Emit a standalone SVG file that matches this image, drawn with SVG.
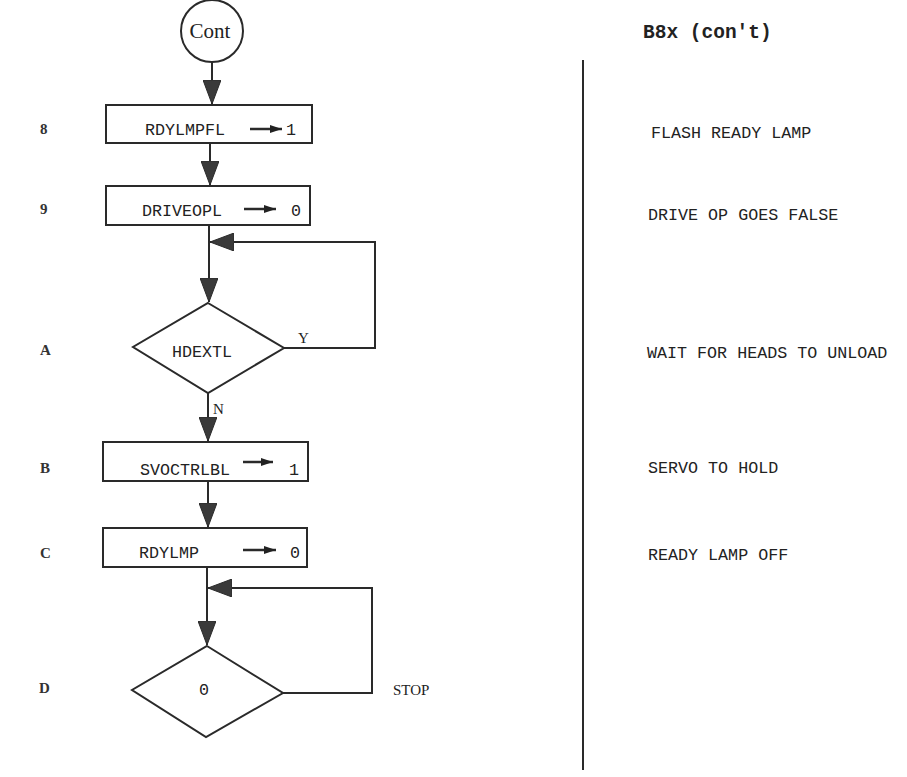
<svg xmlns="http://www.w3.org/2000/svg" width="907" height="777" viewBox="0 0 907 777">
<defs>
<style>
.bg{fill:#ffffff}
.shape{fill:#ffffff;stroke:#2a2a2a;stroke-width:2}
.line{fill:none;stroke:#2a2a2a;stroke-width:2}
.thin{fill:none;stroke:#2a2a2a;stroke-width:2.5}
.head{fill:#3a3a3a;stroke:#2a2a2a;stroke-width:1}
.mono{font-family:"Liberation Mono","DejaVu Sans Mono",monospace;font-size:16.7px;fill:#222}
.title{font-family:"Liberation Mono","DejaVu Sans Mono",monospace;font-size:19.5px;font-weight:bold;fill:#222}
.serif{font-family:"Liberation Serif","DejaVu Serif",serif;font-size:15px;fill:#222}
.lbl{font-family:"Liberation Serif","DejaVu Serif",serif;font-size:15px;font-weight:bold;fill:#333}
</style>
<marker id="ah" viewBox="0 0 24 18" refX="24" refY="9" markerWidth="24" markerHeight="18" markerUnits="userSpaceOnUse" orient="auto">
<path d="M0,0 L24,9 L0,18 Z" class="head"/>
</marker>
<marker id="sa" viewBox="0 0 12 8" refX="12" refY="4" markerWidth="12" markerHeight="8" markerUnits="userSpaceOnUse" orient="auto">
<path d="M0,0 L12,4 L0,8 Z" fill="#222"/>
</marker>
</defs>
<rect class="bg" x="0" y="0" width="907" height="777"/>

<g id="connectors">
<path class="line" d="M212,62 V104" marker-end="url(#ah)"/>
<path class="line" d="M210,143 V185" marker-end="url(#ah)"/>
<path class="line" d="M209,225 V302" marker-end="url(#ah)"/>
<path class="line" d="M284,348 H375 V242 H210" marker-end="url(#ah)"/>
<path class="line" d="M208,393 V441" marker-end="url(#ah)"/>
<path class="line" d="M208,481 V527" marker-end="url(#ah)"/>
<path class="line" d="M207,567 V645" marker-end="url(#ah)"/>
<path class="line" d="M283,693 H372 V588 H208" marker-end="url(#ah)"/>
<text class="serif" x="298" y="343">Y</text>
<text class="serif" x="213" y="414">N</text>
<text class="serif" x="393" y="695">STOP</text>
</g>

<g id="node-cont">
<circle class="shape" cx="212" cy="31" r="31"/>
<text x="210" y="38" text-anchor="middle" font-family="Liberation Serif, DejaVu Serif, serif" font-size="21" fill="#222">Cont</text>
</g>

<g id="node-8">
<text class="lbl" x="40" y="134">8</text>
<rect class="shape" x="106" y="105" width="206" height="38"/>
<text class="mono" x="145" y="135">RDYLMPFL</text>
<path class="thin" d="M250,129 H282" marker-end="url(#sa)"/>
<text class="mono" x="286" y="135">1</text>
</g>

<g id="node-9">
<text class="lbl" x="40" y="214">9</text>
<rect class="shape" x="106" y="186" width="204" height="39"/>
<text class="mono" x="142" y="216">DRIVEOPL</text>
<path class="thin" d="M244,209 H276" marker-end="url(#sa)"/>
<text class="mono" x="291" y="216">0</text>
</g>

<g id="node-A">
<text class="lbl" x="40" y="355">A</text>
<polygon class="shape" points="208,303 284,348 208,393 133,347"/>
<text class="mono" x="202" y="357" text-anchor="middle">HDEXTL</text>
</g>

<g id="node-B">
<text class="lbl" x="40" y="473">B</text>
<rect class="shape" x="103" y="442" width="205" height="39"/>
<text class="mono" x="140" y="475">SVOCTRLBL</text>
<path class="thin" d="M243,462 H273" marker-end="url(#sa)"/>
<text class="mono" x="289" y="475">1</text>
</g>

<g id="node-C">
<text class="lbl" x="40" y="558">C</text>
<rect class="shape" x="103" y="528" width="204" height="39"/>
<text class="mono" x="139" y="558">RDYLMP</text>
<path class="thin" d="M243,550 H276" marker-end="url(#sa)"/>
<text class="mono" x="290" y="558">0</text>
</g>

<g id="node-D">
<text class="lbl" x="39" y="693">D</text>
<polygon class="shape" points="207,646 283,693 206,737 132,690"/>
<text class="mono" x="204" y="695" text-anchor="middle">0</text>
</g>

<g id="notes">
<text class="title" x="643" y="38">B8x (con't)</text>
<line class="line" x1="583" y1="60" x2="583" y2="770"/>
<text class="mono" x="651" y="138">FLASH READY LAMP</text>
<text class="mono" x="648" y="220">DRIVE OP GOES FALSE</text>
<text class="mono" x="647" y="358">WAIT FOR HEADS TO UNLOAD</text>
<text class="mono" x="648" y="473">SERVO TO HOLD</text>
<text class="mono" x="648" y="560">READY LAMP OFF</text>
</g>
</svg>
